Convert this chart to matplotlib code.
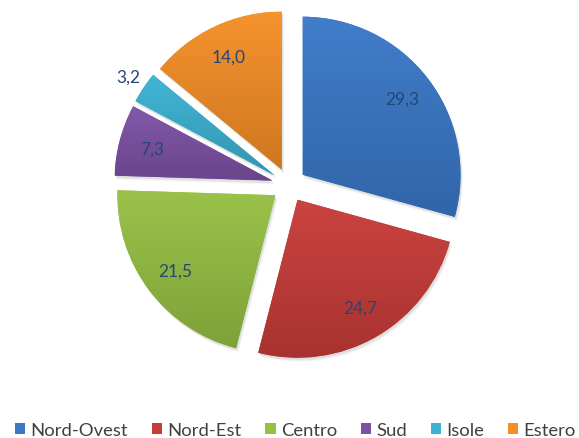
import numpy as np
import matplotlib
matplotlib.use("Agg")
import matplotlib.pyplot as plt
from matplotlib.patches import Patch, Wedge
from matplotlib.colors import to_rgb

regions = ["Nord-Ovest", "Nord-Est", "Centro", "Sud", "Isole", "Estero"]
shares = [29.3, 24.7, 21.5, 7.3, 3.2, 14.0]
colors = ["#3A78C8", "#C83C38", "#96C043", "#7D52A5", "#3BB2D3", "#F58E26"]

W, H = 579, 439
fig = plt.figure(figsize=(W / 100, H / 100), dpi=100)
ax = fig.add_axes([0, 0, 1, 1])

cx, cy = 289, H - 186
radius = 158
gap = 17  # offset of each wedge from the centre, in pixels

wedges, _ = ax.pie(shares, radius=radius, center=(cx, cy), startangle=90,
                   counterclock=False, explode=[gap] * len(shares), colors=colors,
                   wedgeprops=dict(linewidth=0))
ax.set_xlim(0, W)
ax.set_ylim(0, H)
ax.set_aspect("equal")
ax.axis("off")

def shade(c, f):
    r = np.array(to_rgb(c))
    if f >= 0:
        return r + (1 - r) * f
    return r * (1 + f)

# soft drop shadow, vertical gradient fill per wedge
for w, c in zip(wedges, colors):
    wx, wy = w.center
    for k, a in [(4, 0.035), (3, 0.045), (2, 0.055)]:
        sh = Wedge((wx + k * 0.6, wy - k), w.r, w.theta1, w.theta2,
                   facecolor="black", alpha=a, linewidth=0, zorder=0.5)
        ax.add_patch(sh)
    w.set_zorder(1)
    top, bot = shade(c, 0.04), shade(c, -0.16)
    t = np.linspace(0, 1, 256)[:, None, None]
    grad = top[None, None, :] * (1 - t) + bot[None, None, :] * t
    grad = np.repeat(grad, 2, axis=1)
    ext = w.get_path().get_extents(w.get_patch_transform())
    im = ax.imshow(grad, extent=(ext.x0, ext.x1, ext.y0, ext.y1),
                   origin="upper", aspect="auto", zorder=1.5, interpolation="bilinear")
    im.set_clip_path(w)

ax.set_xlim(0, W)
ax.set_ylim(0, H)

label_color = "#264676"
for w, v in zip(wedges, shares):
    thm = np.deg2rad((w.theta1 + w.theta2) / 2)
    d = 142 if v > 5 else 194
    ax.text(cx + d * np.cos(thm), cy + d * np.sin(thm), f"{v:.1f}".replace(".", ","),
            ha="center", va="center", fontsize=12.5, color=label_color,
            family="Lato", zorder=3)

handles = [Patch(facecolor=c, edgecolor="none") for c in colors]
fig.legend(handles, regions, loc="center", bbox_to_anchor=(0.5 + 6 / W, 1 - 431 / H),
           ncol=6, frameon=False, handlelength=0.55, handleheight=0.55,
           handletextpad=0.28, columnspacing=1.3, borderaxespad=0,
           prop=dict(family="Lato", size=13.3), labelcolor="#404040")

fig.savefig("out.png", dpi=100)
